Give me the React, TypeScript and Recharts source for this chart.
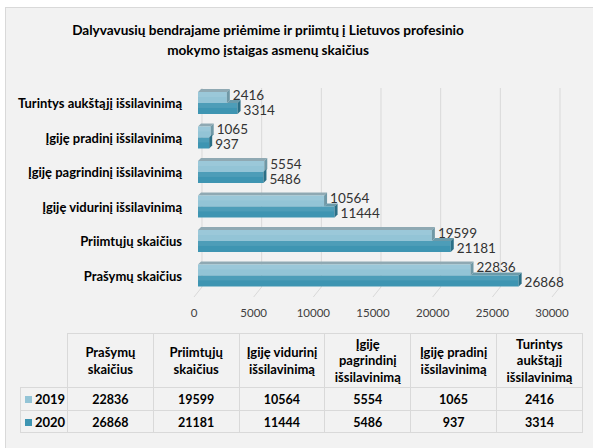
import React from "react"
import { BarChart, Bar, XAxis, YAxis, CartesianGrid, LabelList } from "recharts"

const categories = [
  "Prašymų skaičius",
  "Priimtųjų skaičius",
  "Įgiję vidurinį išsilavinimą",
  "Įgiję pagrindinį išsilavinimą",
  "Įgiję pradinį išsilavinimą",
  "Turintys aukštąjį išsilavinimą",
]
const tableHeaders = [
  ["Prašymų", "skaičius"],
  ["Priimtųjų", "skaičius"],
  ["Įgiję vidurinį", "išsilavinimą"],
  ["Įgiję", "pagrindinį", "išsilavinimą"],
  ["Įgiję pradinį", "išsilavinimą"],
  ["Turintys", "aukštąjį", "išsilavinimą"],
]
const values2019 = [22836, 19599, 10564, 5554, 1065, 2416]
const values2020 = [26868, 21181, 11444, 5486, 937, 3314]
const xTicks = [0, 5000, 10000, 15000, 20000, 25000, 30000]
const seriesNames = ["2019", "2020"]

const FONT = "Lato, 'Open Sans', sans-serif"
const C19 = { front: "#93c4d6", top: "#8fa9b3", side: "#6f98a6" }
const C20 = { front: "#3e95b2", top: "#6a9aaa", side: "#2b6f86" }
const D = 3

const rows = categories.map((name, i) => ({
  name,
  v2019: values2019[i],
  v2020: values2020[i],
}))

// bar with a small fake 3D top and side face, like the Excel original
function makeShape(c: typeof C19, lower: boolean) {
  return (p: any) => {
    const { x, y, width, height, payload } = p
    if (width == null || width <= 0) return <g />
    const right = x + width
    let topStart = x
    if (lower) {
      const w19 = (width * payload.v2019) / payload.v2020
      topStart = x + w19
    }
    return (
      <g>
        {topStart < right && (
          <polygon
            points={`${topStart},${y} ${topStart + D},${y - D} ${right + D},${y - D} ${right},${y}`}
            fill={c.top}
          />
        )}
        <rect x={x} y={y} width={width} height={height} fill={c.front} />
        <rect x={x} y={y} width={width} height={height * 0.45} fill="#ffffff" opacity={0.08} />
        <polygon
          points={`${right},${y} ${right + D},${y - D} ${right + D},${y + height - D} ${right},${y + height}`}
          fill={c.side}
        />
      </g>
    )
  }
}

const YTick = ({ x, y, payload }: any) => (
  <text x={x} y={y} textAnchor="end" dominantBaseline="central"
    fontFamily={FONT} fontWeight={700} fontSize={13} fill="#000">
    {payload.value}
  </text>
)

const XTick = ({ x, y, payload }: any) => (
  <text x={x - 4} y={y + 19} textAnchor="middle" dominantBaseline="central"
    fontFamily={FONT} fontSize={11.5} fill="#404040">
    {payload.value}
  </text>
)

const gridLine = (p: any) => {
  const { x1, y1, y2 } = p
  return (
    <g key={p.key}>
      <line x1={x1 + 4} y1={y1 + 2} x2={x1 + 4} y2={y2 - 6} stroke="#d9d9d9" />
      <line x1={x1 + 4} y1={y2 - 6} x2={x1 - 4} y2={y2 + 4} stroke="#d9d9d9" />
    </g>
  )
}

const colLeft = 67
const colW = 85.8
const border = "1px solid #d9d9d9"

function DataTable() {
  const cells: React.ReactNode[] = []
  tableHeaders.forEach((lines, i) => {
    cells.push(
      <div key={"h" + i} style={{
        position: "absolute", left: colLeft + i * colW, top: 333, width: colW, height: 54,
        borderLeft: border, borderTop: border, boxSizing: "border-box",
        display: "flex", flexDirection: "column", justifyContent: "center", alignItems: "center",
        fontWeight: 700, fontSize: 13, lineHeight: "16.5px", textAlign: "center",
      }}>
        {lines.map((l) => <div key={l}>{l}</div>)}
      </div>
    )
  })
  const series = [values2019, values2020]
  const colors = [C19.front, C20.front]
  series.forEach((vals, r) => {
    const top = 387 + r * 23
    cells.push(
      <div key={"l" + r} style={{
        position: "absolute", left: 20, top, width: colLeft - 20, height: 23,
        borderLeft: border, borderTop: border, boxSizing: "border-box",
        display: "flex", alignItems: "center", fontWeight: 700, fontSize: 13,
      }}>
        <span style={{ display: "inline-block", width: 7, height: 7, background: colors[r], marginLeft: 4, marginRight: 3 }} />
        {seriesNames[r]}
      </div>
    )
    vals.forEach((v, i) => {
      cells.push(
        <div key={"c" + r + i} style={{
          position: "absolute", left: colLeft + i * colW, top, width: colW, height: 23,
          borderLeft: border, borderTop: border, boxSizing: "border-box",
          display: "flex", alignItems: "center", justifyContent: "center",
          fontWeight: 700, fontSize: 12.5,
        }}>
          {v}
        </div>
      )
    })
  })
  return (
    <div style={{ position: "absolute", left: 0, top: 0, fontFamily: FONT, color: "#000" }}>
      {cells}
      <div style={{ position: "absolute", left: 582, top: 333, width: 1, height: 99, background: "#d9d9d9" }} />
      <div style={{ position: "absolute", left: 20, top: 432, width: 563, height: 1, background: "#d9d9d9" }} />
    </div>
  )
}

export default function App() {
  return (
    <div style={{ position: "absolute", left: 0, top: 0, width: 593, height: 448, background: "#fff", overflow: "hidden" }}>
      <div style={{
        position: "absolute", left: 5, top: 7, width: 600, height: 450,
        background: "#f2f2f2", border: "1px solid #d9d9d9",
      }} />
      <div style={{
        position: "absolute", left: 0, top: 20, width: 536, textAlign: "center",
        fontFamily: FONT, fontWeight: 700, fontSize: 13.6, lineHeight: "20px", color: "#000",
      }}>
        <div>Dalyvavusių bendrajame priėmime ir priimtų į Lietuvos profesinio</div>
        <div>mokymo įstaigas asmenų skaičius</div>
      </div>
      <div style={{ position: "absolute", left: 0, top: 0 }}>
        <BarChart
          width={593}
          height={448}
          data={rows}
          layout="vertical"
          margin={{ top: 86, right: 37, bottom: 125, left: 0 }}
          barGap={0}
          barSize={11}
        >
          <CartesianGrid horizontal={false} vertical={gridLine} />
          <XAxis type="number" domain={[0, 30000]} ticks={xTicks} axisLine={false} height={30}
            tickLine={false} tickSize={0} tickMargin={0} tick={<XTick />} interval={0} />
          <YAxis type="category" dataKey="name" reversed width={198} axisLine={false}
            tickLine={false} tickSize={0} tickMargin={16} tick={<YTick />} interval={0} />
          <Bar dataKey="v2019" name="2019" fill={C19.front} shape={makeShape(C19, false)} isAnimationActive={false}>
            <LabelList dataKey="v2019" position="right"
              content={(p: any) => (
                <text x={p.x + p.width + 6} y={p.y + p.height / 2 - 3} dominantBaseline="central"
                  fontFamily={FONT} fontSize={13.5} fill="#333">{p.value}</text>
              )} />
          </Bar>
          <Bar dataKey="v2020" name="2020" fill={C20.front} shape={makeShape(C20, true)} isAnimationActive={false}>
            <LabelList dataKey="v2020" position="right"
              content={(p: any) => (
                <text x={p.x + p.width + 6} y={p.y + p.height / 2 + 1} dominantBaseline="central"
                  fontFamily={FONT} fontSize={13.5} fill="#333">{p.value}</text>
              )} />
          </Bar>
        </BarChart>
      </div>
      <DataTable />
    </div>
  )
}
